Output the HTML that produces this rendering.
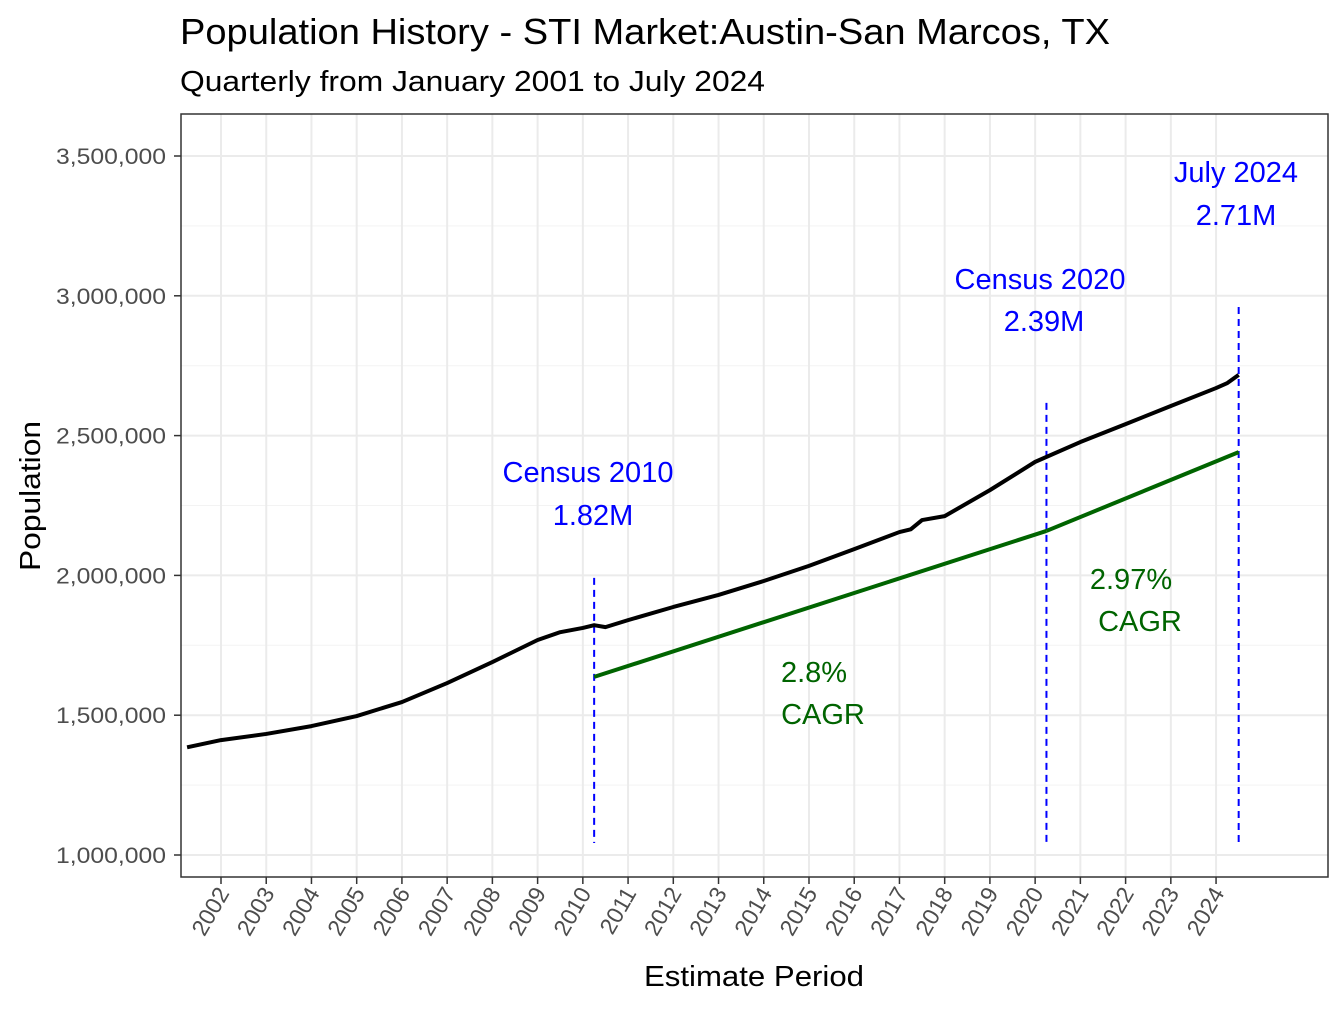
<!DOCTYPE html>
<html><head><meta charset="utf-8"><style>
body{margin:0;background:#fff;}
svg text{font-family:"Liberation Sans",Arial,sans-serif;}
</style></head><body>
<svg id="chart" width="1344" height="1008" viewBox="0 0 1344 1008" xmlns="http://www.w3.org/2000/svg">
<rect width="1344" height="1008" fill="#fff"/>
<text x="180" y="44" font-size="36" textLength="930" lengthAdjust="spacingAndGlyphs" fill="#000">Population History - STI Market:Austin-San Marcos, TX</text>
<text x="180" y="91" font-size="29" textLength="585" lengthAdjust="spacingAndGlyphs" fill="#000">Quarterly from January 2001 to July 2024</text>
<g id="grid"></g>
<g id="marks"></g>
<rect x="181" y="114" width="1147" height="763" fill="none" stroke="#333" stroke-width="1.5"/>
<g id="axes"></g>
<text x="754" y="986" font-size="29" textLength="220" lengthAdjust="spacingAndGlyphs" text-anchor="middle" fill="#000">Estimate Period</text>
<text transform="translate(40,496) rotate(-90)" font-size="29" textLength="150" lengthAdjust="spacingAndGlyphs" text-anchor="middle" fill="#000">Population</text>
</svg>
<script>
const years = [2002,2003,2004,2005,2006,2007,2008,2009,2010,2011,2012,2013,2014,2015,2016,2017,2018,2019,2020,2021,2022,2023,2024];
const yTicks = [1000000,1500000,2000000,2500000,3000000,3500000];
const yTickLabels = ["1,000,000","1,500,000","2,000,000","2,500,000","3,000,000","3,500,000"];
const popDates = [2001.25,2002,2003,2004,2005,2006,2007,2008,2009,2009.5,2010,2010.25,2010.5,2011,2012,2013,2014,2015,2016,2017,2017.25,2017.5,2018,2019,2020,2021,2022,2023,2024,2024.25,2024.5];
const popValues = [1385000,1411000,1433000,1461000,1497000,1547000,1615000,1690000,1769000,1797000,1812000,1822000,1815000,1840000,1887000,1930000,1980000,2034000,2094000,2155000,2165000,2198000,2212000,2305000,2406000,2477000,2541000,2606000,2670000,2688000,2717000];
const cagrDates1 = [2010.25,2020.25];
const cagrValues1 = [1637000,2159000];
const cagrDates2 = [2020.25,2024.5];
const cagrValues2 = [2159000,2441000];
const markerDates = [2010.25,2020.25,2024.5];
const markerTops = [1991000,2617000,2960000];
const markerBottom = 1043000;

const X = d => 221 + (d-2002)*45.23;
const Y = v => 855 - (v-1000000)/500000*139.8;
const NS="http://www.w3.org/2000/svg";
function mk(parent,tag,attrs){const e=document.createElementNS(NS,tag);for(const k in attrs)e.setAttribute(k,attrs[k]);document.getElementById(parent).appendChild(e);return e;}

for(let i=0;i<yTicks.length;i++){
  const y=Y(yTicks[i]);
  const g=mk('grid','line',{x1:181,x2:1328,y1:y,y2:y,stroke:'#ebebeb','stroke-width':2});
  
  
  if(i<yTicks.length-1){
    const ym=Y(yTicks[i]+250000);
    const m=mk('grid','line',{x1:181,x2:1328,y1:ym,y2:ym,stroke:'#f3f3f3','stroke-width':1});
    
    
  }
  const t=mk('axes','line',{x1:174,x2:181,y1:y,y2:y,stroke:'#333','stroke-width':1.5});
  
  
  const l=mk('axes','text',{x:166,y:y+8,'font-size':22,textLength:110,lengthAdjust:'spacingAndGlyphs','text-anchor':'end',fill:'#4d4d4d'});
  l.textContent=yTickLabels[i];
  
  
}
for(const yr of years){
  const x=X(yr);
  const g=mk('grid','line',{x1:x,x2:x,y1:114,y2:877,stroke:'#ebebeb','stroke-width':2});
  
  
  const t=mk('axes','line',{x1:x,x2:x,y1:877,y2:884,stroke:'#333','stroke-width':1.5});
  
  
  const l=mk('axes','text',{transform:`translate(${x+9},${893}) rotate(-60)`,'font-size':23,'text-anchor':'end',fill:'#4d4d4d'});
  l.textContent=yr;
  
  
}
function line(dates,vals,color,w,name){
  const p=mk('marks','polyline',{points:dates.map((d,i)=>X(d)+','+Y(vals[i])).join(' '),fill:'none',stroke:color,'stroke-width':w,'stroke-linejoin':'round'});
  
  
}
for(let i=0;i<markerDates.length;i++){
  const x=X(markerDates[i]);
  const l=mk('marks','line',{x1:x,x2:x,y1:Y(markerTops[i]),y2:Y(markerBottom),stroke:'#0000ff','stroke-width':2,'stroke-dasharray':'7,5'});
  
  
}
line(popDates,popValues,'#000',4,'population-line');
line(cagrDates1,cagrValues1,'#006400',4,'cagr-line-2010-2020');
line(cagrDates2,cagrValues2,'#006400',4,'cagr-line-2020-2024');
const ann=[["Census 2010",588,482,'#0000ff','census-2010-label'],["1.82M",593,525,'#0000ff','census-2010-value'],
["Census 2020",1040,289,'#0000ff','census-2020-label'],["2.39M",1044,331,'#0000ff','census-2020-value'],
["July 2024",1236,182,'#0000ff','july-2024-label'],["2.71M",1236,225,'#0000ff','july-2024-value'],
["2.8%",814,682,'#006400','cagr-2010-value'],["CAGR",823,724,'#006400','cagr-2010-label'],
["2.97%",1131,589,'#006400','cagr-2020-value'],["CAGR",1140,631,'#006400','cagr-2020-label']];
for(const a of ann){
  const t=mk('marks','text',{x:a[1],y:a[2],'font-size':29,'text-anchor':'middle',fill:a[3]});
  t.textContent=a[0];
  
  
}
</script>
</body></html>
